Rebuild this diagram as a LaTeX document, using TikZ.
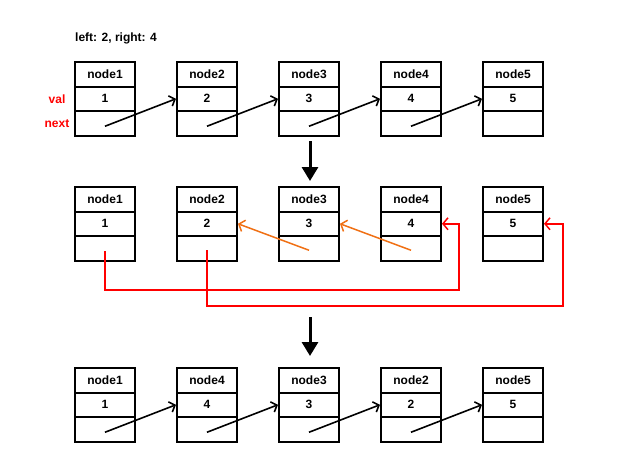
\documentclass[tikz,border=0pt]{standalone}
\usepackage{fontspec}
\setmainfont{Liberation Sans}
\usetikzlibrary{arrows.meta}

\definecolor{swaporange}{RGB}{240,112,20}
\definecolor{swapred}{RGB}{255,0,0}

\begin{document}
\begin{tikzpicture}[x=1pt,y=-1pt,
  cell/.style={draw=black,line width=2pt,minimum width=60pt,minimum height=24.5pt,inner sep=0pt,font=\bfseries\fontsize{12}{13}\selectfont},
  tag/.style={text=swapred,font=\bfseries\fontsize{12}{13}\selectfont},
  link/.style={line width=1.6pt,-{Straight Barb[length=5pt,width=11pt,line width=1.6pt]}},
  turn/.style={draw=swaporange,line width=1.5pt,-{Straight Barb[length=5pt,width=12pt,line width=1.5pt]}},
  jump/.style={draw=swapred,line width=1.5pt,-{Straight Barb[length=5pt,width=12pt,line width=1.5pt]}},
  stage/.style={line width=3pt,-{Triangle[length=14pt,width=16pt]}}]

\useasboundingbox (0,0) rectangle (629,453);

\node[font=\bfseries\fontsize{12}{13}\selectfont] (title) at (116,38) {left: 2, right: 4};
\node[tag] (val) at (57,98.75) {val};
\node[tag] (next) at (57,123.25) {next};

\foreach \i in {1,...,5}{
  \node[cell] (ha\i) at ({105+102*(\i-1)},74.25) {node\i};
  \node[cell] (va\i) at ({105+102*(\i-1)},98.75) {\i};
  \node[cell] (na\i) at ({105+102*(\i-1)},123.25) {};
  \node[cell] (hb\i) at ({105+102*(\i-1)},199.25) {node\i};
  \node[cell] (vb\i) at ({105+102*(\i-1)},223.75) {\i};
  \node[cell] (nb\i) at ({105+102*(\i-1)},248.25) {};
}
\foreach \i/\n in {1/1,2/4,3/3,4/2,5/5}{
  \node[cell] (hc\i) at ({105+102*(\i-1)},380.25) {node\n};
  \node[cell] (vc\i) at ({105+102*(\i-1)},404.75) {\n};
  \node[cell] (nc\i) at ({105+102*(\i-1)},429.25) {};
}

\foreach \i/\j in {1/2,2/3,3/4,4/5}{
  \draw[link] ([yshift=-3pt]na\i.center) -- (va\j.west);
  \draw[link] ([yshift=-3pt]nc\i.center) -- (vc\j.west);
}

\draw[turn] ([yshift=-2pt]nb3.center) -- (vb2.east);
\draw[turn] ([yshift=-2pt]nb4.center) -- (vb3.east);

\draw[jump] ([yshift=-3pt]nb1.center) |- (459,290) |- (vb4.east);
\draw[jump] ([yshift=-2pt]nb2.center) |- (563,306) |- (vb5.east);

\coordinate (drop) at (310,317);
\draw[stage] ([xshift=1pt,yshift=-4.5pt]na3.south) -- ([xshift=1pt,yshift=5pt]hb3.north);
\draw[stage] (drop) -- ([xshift=1pt,yshift=11pt]hc3.north);

\end{tikzpicture}
\end{document}
